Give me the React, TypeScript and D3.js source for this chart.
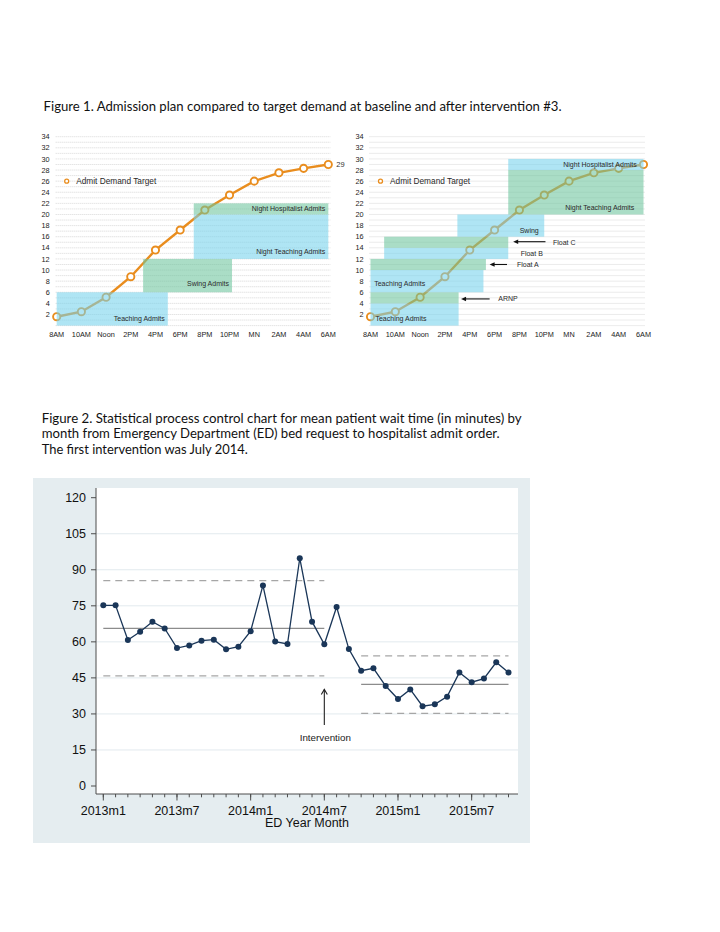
import { useEffect, useRef } from 'react';
import * as d3 from 'd3';

// ---- Figure 1 data ----
const hours = [8, 10, 12, 14, 16, 18, 20, 22, 24, 26, 28, 30];
const hourLabels = ['8AM', '10AM', 'Noon', '2PM', '4PM', '6PM', '8PM', '10PM', 'MN', '2AM', '4AM', '6AM'];
const demand = [1.6, 2.5, 5.1, 8.8, 13.6, 17.2, 20.8, 23.5, 26.0, 27.5, 28.3, 29.0];
const countTicks = [2, 4, 6, 8, 10, 12, 14, 16, 18, 20, 22, 24, 26, 28, 30, 32, 34];

// bands: hour range x admit range (alternating shades in drawing order)
const baselineBands = [
  { start: 8, end: 17, lo: 0, hi: 6 },
  { start: 15, end: 22.2, lo: 6, hi: 12 },
  { start: 19.1, end: 30, lo: 12, hi: 20 },
  { start: 19.1, end: 30, lo: 20, hi: 22 },
];
const baselineLabels = [
  { text: 'Teaching Admits', t: 17, v: 1.3, anchor: 'end' },
  { text: 'Swing Admits', t: 22.2, v: 7.5, anchor: 'end' },
  { text: 'Night Teaching Admits', t: 30, v: 13.3, anchor: 'end' },
  { text: 'Night Hospitalist Admits', t: 30, v: 21.0, anchor: 'end' },
];

const afterBands = [
  { start: 8, end: 15.1, lo: 0, hi: 4 },
  { start: 8, end: 15.1, lo: 4, hi: 6 },
  { start: 8, end: 17.1, lo: 6, hi: 10 },
  { start: 8, end: 17.3, lo: 10, hi: 12 },
  { start: 9.1, end: 19.1, lo: 12, hi: 14 },
  { start: 9.1, end: 19.1, lo: 14, hi: 16 },
  { start: 15, end: 22, lo: 16, hi: 20 },
  { start: 19.1, end: 30, lo: 20, hi: 28 },
  { start: 19.1, end: 30, lo: 28, hi: 30 },
];
const afterLabels = [
  { text: 'Teaching Admits', t: 8.4, v: 1.3, anchor: 'start' },
  { text: 'Teaching Admits', t: 8.3, v: 7.5, anchor: 'start' },
  { text: 'ARNP', t: 18.3, v: 4.8, anchor: 'start' },
  { text: 'Float A', t: 19.8, v: 11.0, anchor: 'start' },
  { text: 'Float B', t: 20.1, v: 12.9, anchor: 'start' },
  { text: 'Float C', t: 22.7, v: 15.0, anchor: 'start' },
  { text: 'Swing', t: 21.8, v: 17.1, anchor: 'end' },
  { text: 'Night Teaching Admits', t: 29.5, v: 21.3, anchor: 'end' },
  { text: 'Night Hospitalist Admits', t: 29.7, v: 29.0, anchor: 'end' },
];
const afterArrows = [
  { from: 17.6, to: 15.3, v: 4.8 },
  { from: 19.0, to: 17.6, v: 11.0 },
  { from: 22.1, to: 19.5, v: 15.1 },
];

// ---- Figure 2 data ----
const waitTime = [
  75.2, 75.2, 60.8, 64.2, 68.4, 65.6, 57.4, 58.5, 60.5, 60.9, 56.9, 58.0,
  64.4, 83.5, 60.1, 59.1, 94.8, 68.4, 59.0, 74.5, 57.0, 48.0, 49.0, 41.6,
  36.2, 40.2, 33.2, 34.0, 37.2, 47.2, 43.2, 44.7, 51.5, 47.2,
];
const monthTicks = [0, 6, 12, 18, 24, 30];
const monthTickLabels = ['2013m1', '2013m7', '2014m1', '2014m7', '2015m1', '2015m7'];
const waitTicks = [0, 15, 30, 45, 60, 75, 90, 105, 120];
const phases = [
  { start: 0, end: 18, mean: 65.6, ucl: 85.5, lcl: 45.8 },
  { start: 21, end: 33, mean: 42.3, ucl: 54.2, lcl: 30.2 },
];
const interventionMonth = 18;

const fig1Caption = 'Figure 1. Admission plan compared to target demand at baseline and after intervention #3.';
const fig2Caption = [
  'Figure 2. Statistical process control chart for mean patient wait time (in minutes) by',
  'month from Emergency Department (ED) bed request to hospitalist admit order.',
  'The first intervention was July 2014.',
];

type Band = { start: number; end: number; lo: number; hi: number };
type Label = { text: string; t: number; v: number; anchor: string };
type Arrow = { from: number; to: number; v: number };

export default function App() {
  const ref = useRef<SVGSVGElement>(null);

  useEffect(() => {
    const svg = d3.select(ref.current);
    svg.selectAll('*').remove();
    const W = 720, H = 932;
    svg.attr('width', W).attr('height', H).attr('viewBox', `0 0 ${W} ${H}`);
    svg.append('rect').attr('width', W).attr('height', H).attr('fill', '#fff');

    const sans = 'Helvetica, Arial, "Liberation Sans", sans-serif';
    const capFont = 'Lato, "Open Sans", sans-serif';

    // captions
    svg.append('text').attr('x', 43.6).attr('y', 111)
      .attr('font-family', capFont).attr('font-size', 13).attr('fill', '#111')
      .attr('textLength', 518).attr('lengthAdjust', 'spacingAndGlyphs')
      .text(fig1Caption);
    const capLens = [480, 458, 206];
    fig2Caption.forEach((line, i) => {
      svg.append('text').attr('x', 41.7).attr('y', 422.5 + i * 15.5)
        .attr('font-family', capFont).attr('font-size', 13).attr('fill', '#111')
        .attr('textLength', capLens[i]).attr('lengthAdjust', 'spacingAndGlyphs')
        .text(line);
    });

    // ---- Figure 1 panels ----
    const ys = d3.scaleLinear().domain([0, 34]).range([325.6, 136.7]);
    const shades = ['#75d3ec', '#6cc59c'];

    const drawDay = (x0: number, x1: number, bands: Band[], labels: Label[], arrows: Arrow[], showEnd: boolean) => {
      const xs = d3.scaleLinear().domain([8, 30]).range([x0, x1]);
      const g = svg.append('g').attr('font-family', sans);

      // dotted grid at every admit
      g.selectAll('line.grid').data(d3.range(0, 35)).join('line')
        .attr('x1', xs(8) - 1).attr('x2', xs(30) + 2)
        .attr('y1', d => ys(d)).attr('y2', d => ys(d))
        .attr('stroke', '#bdbdbd').attr('stroke-width', 0.6).attr('stroke-dasharray', '1,1');

      const line = d3.line<number>().x((_, i) => xs(hours[i])).y(d => ys(d));
      g.append('path').datum(demand).attr('d', line)
        .attr('fill', 'none').attr('stroke', '#e98d1e').attr('stroke-width', 2.4);
      g.selectAll('circle.pt').data(demand).join('circle')
        .attr('cx', (_, i) => xs(hours[i])).attr('cy', d => ys(d)).attr('r', 3.6)
        .attr('fill', '#fff').attr('stroke', '#e98d1e').attr('stroke-width', 1.9);

      // translucent bands over the line
      g.selectAll('rect.band').data(bands).join('rect')
        .attr('x', d => xs(d.start)).attr('width', d => xs(d.end) - xs(d.start))
        .attr('y', d => ys(d.hi)).attr('height', d => ys(d.lo) - ys(d.hi))
        .attr('fill', (_, i) => shades[i % 2]).attr('opacity', 0.58);

      g.selectAll('text.lab').data(labels).join('text')
        .attr('x', d => xs(d.t) + (d.anchor === 'end' ? -3 : 0)).attr('y', d => ys(d.v) + 2.5)
        .attr('text-anchor', d => d.anchor).attr('font-size', 7).attr('fill', '#2a2a2a')
        .text(d => d.text);

      arrows.forEach(a => {
        const yy = ys(a.v);
        g.append('line').attr('x1', xs(a.from)).attr('x2', xs(a.to) + 4)
          .attr('y1', yy).attr('y2', yy).attr('stroke', '#111').attr('stroke-width', 1.1);
        g.append('path')
          .attr('d', `M${xs(a.to)},${yy} l5,-2.2 l0,4.4 Z`).attr('fill', '#111');
      });

      // legend
      g.append('circle').attr('cx', xs(8) + 10).attr('cy', ys(26)).attr('r', 2)
        .attr('fill', '#fff').attr('stroke', '#e98d1e').attr('stroke-width', 1.3);
      g.append('text').attr('x', xs(8) + 19.5).attr('y', ys(26) + 3)
        .attr('font-size', 8.3).attr('fill', '#2a2a2a').text('Admit Demand Target');

      if (showEnd) {
        g.append('text').attr('x', xs(30) + 8).attr('y', ys(demand[demand.length - 1]) + 2.5)
          .attr('font-size', 7.5).attr('fill', '#333').text(String(demand[demand.length - 1]));
      }

      // axes labels
      g.selectAll('text.yt').data(countTicks).join('text')
        .attr('x', xs(8) - 7).attr('y', d => ys(d) + 2.6)
        .attr('text-anchor', 'end').attr('font-size', 7.3).attr('fill', '#222')
        .text(d => d);
      g.selectAll('text.xt').data(hourLabels).join('text')
        .attr('x', (_, i) => xs(hours[i])).attr('y', 336.5)
        .attr('text-anchor', 'middle').attr('font-size', 7.3).attr('fill', '#222')
        .text(d => d);
    };

    drawDay(56.7, 328.3, baselineBands, baselineLabels, [], true);
    drawDay(370.5, 643.5, afterBands, afterLabels, afterArrows, false);

    // ---- Figure 2: SPC chart ----
    const bx = d3.scaleLinear().domain([0, 33]).range([103.3, 508.5]);
    const by = d3.scaleLinear().domain([0, 120]).range([786, 497.7]);
    const pL = 96, pR = 518, pT = 488, pB = 794;

    svg.append('rect').attr('x', 33).attr('y', 478).attr('width', 497).attr('height', 365)
      .attr('fill', '#e5edf0');
    svg.append('rect').attr('x', pL).attr('y', pT).attr('width', pR - pL).attr('height', pB - pT)
      .attr('fill', '#fff');

    const g2 = svg.append('g').attr('font-family', sans);

    g2.selectAll('line.grid').data(waitTicks.filter(d => d > 0 && d < 120)).join('line')
      .attr('x1', pL).attr('x2', pR).attr('y1', d => by(d)).attr('y2', d => by(d))
      .attr('stroke', '#e2eaee').attr('stroke-width', 1);

    phases.forEach(p => {
      g2.append('line').attr('x1', bx(p.start)).attr('x2', bx(p.end))
        .attr('y1', by(p.mean)).attr('y2', by(p.mean))
        .attr('stroke', '#8c8c8c').attr('stroke-width', 1.1);
      [p.ucl, p.lcl].forEach(v => {
        g2.append('line').attr('x1', bx(p.start)).attr('x2', bx(p.end))
          .attr('y1', by(v)).attr('y2', by(v))
          .attr('stroke', '#a6a6a6').attr('stroke-width', 1.3).attr('stroke-dasharray', '7,5');
      });
    });

    const wl = d3.line<number>().x((_, i) => bx(i)).y(d => by(d));
    g2.append('path').datum(waitTime).attr('d', wl)
      .attr('fill', 'none').attr('stroke', '#1a3658').attr('stroke-width', 1.3);
    g2.selectAll('circle.pt').data(waitTime).join('circle')
      .attr('cx', (_, i) => bx(i)).attr('cy', d => by(d)).attr('r', 3)
      .attr('fill', '#1a3658');

    // intervention arrow
    const ix = bx(interventionMonth);
    g2.append('line').attr('x1', ix).attr('x2', ix).attr('y1', by(25.4)).attr('y2', by(40.2))
      .attr('stroke', '#222').attr('stroke-width', 1.1);
    g2.append('path').attr('d', `M${ix - 3},${by(40.2) + 5} L${ix},${by(40.2)} L${ix + 3},${by(40.2) + 5}`)
      .attr('fill', 'none').attr('stroke', '#222').attr('stroke-width', 1.1);
    g2.append('text').attr('x', ix + 1).attr('y', by(20) + 3.5)
      .attr('text-anchor', 'middle').attr('font-size', 9.8).attr('fill', '#222')
      .text('Intervention');

    // axes
    g2.append('line').attr('x1', pL).attr('x2', pL).attr('y1', pT).attr('y2', pB)
      .attr('stroke', '#4d4d4d').attr('stroke-width', 1);
    g2.append('line').attr('x1', pL).attr('x2', pR).attr('y1', pB).attr('y2', pB)
      .attr('stroke', '#4d4d4d').attr('stroke-width', 1);

    g2.selectAll('line.ytick').data(waitTicks).join('line')
      .attr('x1', pL - 5).attr('x2', pL).attr('y1', d => by(d)).attr('y2', d => by(d))
      .attr('stroke', '#4d4d4d');
    g2.selectAll('text.ytick').data(waitTicks).join('text')
      .attr('x', pL - 10).attr('y', d => by(d) + 4.4)
      .attr('text-anchor', 'end').attr('font-size', 12.5).attr('fill', '#111')
      .text(d => d);

    g2.selectAll('line.minor').data(waitTime.map((_, i) => i)).join('line')
      .attr('x1', d => bx(d)).attr('x2', d => bx(d)).attr('y1', pB).attr('y2', pB + 3.3)
      .attr('stroke', '#4d4d4d');
    g2.selectAll('line.major').data(monthTicks).join('line')
      .attr('x1', d => bx(d)).attr('x2', d => bx(d)).attr('y1', pB).attr('y2', pB + 6.5)
      .attr('stroke', '#4d4d4d');
    g2.selectAll('text.xtick').data(monthTickLabels).join('text')
      .attr('x', (_, i) => bx(monthTicks[i])).attr('y', 814.5)
      .attr('text-anchor', 'middle').attr('font-size', 12.5).attr('fill', '#111')
      .text(d => d);
    g2.append('text').attr('x', (pL + pR) / 2).attr('y', 827)
      .attr('text-anchor', 'middle').attr('font-size', 12.5).attr('fill', '#111')
      .text('ED Year Month');
  }, []);

  return (
    <svg ref={ref} style={{ position: 'absolute', left: 0, top: 0, display: 'block' }} />
  );
}
